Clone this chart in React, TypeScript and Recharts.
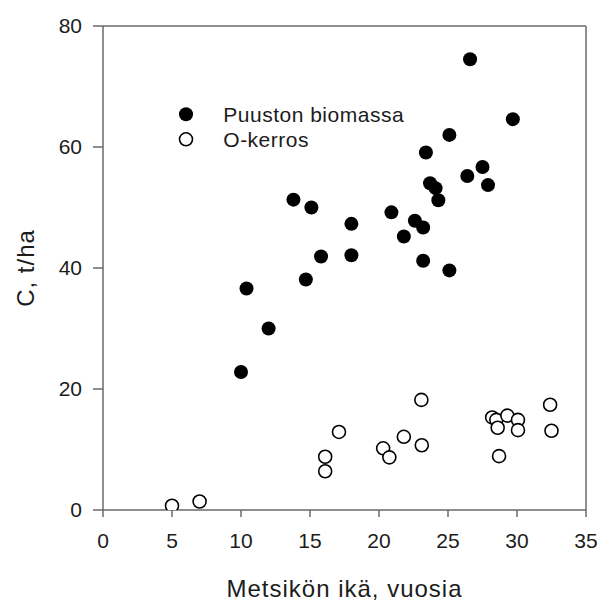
import React from "react";
import {
  ScatterChart,
  Scatter,
  XAxis,
  YAxis,
  ReferenceLine,
  Legend,
} from "recharts";

const xTicks = [0, 5, 10, 15, 20, 25, 30, 35];
const yTicks = [0, 20, 40, 60, 80];

const biomassAge = [10.0, 10.4, 12.0, 13.8, 14.7, 15.1, 15.8, 18.0, 18.0, 20.9, 21.8, 22.6, 23.2, 23.2, 23.4, 23.7, 24.1, 24.3, 25.1, 25.1, 26.4, 26.6, 27.5, 27.9, 29.7];
const biomassC = [22.8, 36.6, 30.0, 51.3, 38.1, 50.0, 41.9, 47.3, 42.1, 49.2, 45.2, 47.8, 46.7, 41.2, 59.1, 54.0, 53.2, 51.2, 62.0, 39.6, 55.2, 74.5, 56.7, 53.7, 64.6];

const oLayerAge = [5.0, 7.0, 16.1, 16.1, 17.1, 20.3, 20.75, 21.8, 23.07, 23.1, 28.2, 28.5, 28.6, 29.3, 30.07, 30.07, 28.7, 32.4, 32.5];
const oLayerC = [0.7, 1.4, 8.8, 6.4, 12.9, 10.2, 8.7, 12.1, 18.2, 10.7, 15.3, 14.9, 13.6, 15.6, 14.9, 13.2, 8.9, 17.4, 13.1];

const seriesNames = ["Puuston biomassa", "O-kerros"];
const xTitle = "Metsikön ikä, vuosia";
const yTitle = "C, t/ha";

const biomassData = biomassAge.map((x, i) => ({ x, y: biomassC[i] }));
const oLayerData = oLayerAge.map((x, i) => ({ x, y: oLayerC[i] }));

const FONT = "'Liberation Sans', Arial, Helvetica, sans-serif";
const AXIS = "#6a6a6a";
const TEXT = "#1c1c1c";

const FilledDot = (props: any) => (
  <circle cx={props.cx} cy={props.cy} r={7} fill="#000" />
);
const OpenDot = (props: any) => (
  <circle cx={props.cx} cy={props.cy} r={6.5} fill="#fff" stroke="#000" strokeWidth={1.6} />
);

const LegendContent = () => (
  <svg width={260} height={56} style={{ display: "block" }}>
    <circle cx={14} cy={14.3} r={7} fill="#000" />
    <circle cx={14} cy={39.3} r={6.5} fill="#fff" stroke="#000" strokeWidth={1.6} />
    <text x={51.3} y={21.7} fontSize={21} fontFamily={FONT} fill={TEXT} letterSpacing={0.5}>
      {seriesNames[0]}
    </text>
    <text x={51.3} y={46.7} fontSize={21} fontFamily={FONT} fill={TEXT} letterSpacing={0.5}>
      {seriesNames[1]}
    </text>
  </svg>
);

export default function App() {
  return (
    <div style={{ position: "absolute", left: 0, top: 0, background: "#fff" }}>
      <ScatterChart
        width={600}
        height={603}
        margin={{ top: 26, right: 14, bottom: 0, left: 0 }}
        style={{ fontFamily: FONT }}
      >
        <XAxis
          type="number"
          dataKey="x"
          domain={[0, 35]}
          ticks={xTicks}
          interval={0}
          height={93}
          stroke={AXIS}
          strokeWidth={1.5}
          tickSize={7}
          tickMargin={16}
          tick={{ fill: TEXT, fontSize: 21, fontFamily: FONT }}
          allowDataOverflow
          label={{
            value: xTitle,
            position: "insideBottom",
            offset: 6,
            style: { fill: TEXT, fontSize: 24, fontFamily: FONT, letterSpacing: 1 },
          }}
        />
        <YAxis
          type="number"
          dataKey="y"
          domain={[0, 80]}
          ticks={yTicks}
          interval={0}
          width={103}
          stroke={AXIS}
          strokeWidth={1.5}
          tickSize={10}
          tickMargin={11}
          tick={{ fill: TEXT, fontSize: 21, fontFamily: FONT }}
          allowDataOverflow
          label={{
            value: yTitle,
            angle: -90,
            position: "insideLeft",
            offset: 25,
            style: { fill: TEXT, fontSize: 24, fontFamily: FONT, textAnchor: "middle", letterSpacing: 1 },
          }}
        />
        <ReferenceLine y={80} stroke={AXIS} strokeWidth={1.5} ifOverflow="visible" />
        <ReferenceLine x={35} stroke={AXIS} strokeWidth={1.5} ifOverflow="visible" />
        <Legend
          layout="vertical"
          verticalAlign="middle"
          align="center"
          content={<LegendContent />}
          wrapperStyle={{ position: "absolute", left: 172, top: 100, width: 260, height: 56 }}
        />
        <Scatter
          name={seriesNames[0]}
          data={biomassData}
          fill="#000"
          shape={<FilledDot />}
          isAnimationActive={false}
        />
        <Scatter
          name={seriesNames[1]}
          data={oLayerData}
          fill="#fff"
          shape={<OpenDot />}
          isAnimationActive={false}
        />
      </ScatterChart>
    </div>
  );
}
